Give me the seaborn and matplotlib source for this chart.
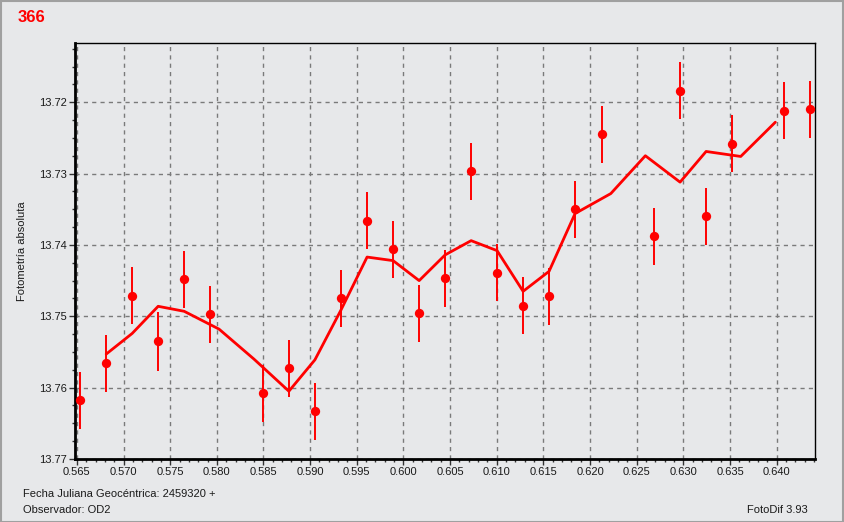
import matplotlib
matplotlib.use("Agg")
import matplotlib.pyplot as plt
import matplotlib.patches as patches
from matplotlib.ticker import MultipleLocator, FormatStrFormatter
import numpy as np
import pandas as pd
import seaborn as sns

# --- Datos ---
jd = [0.56536, 0.56814, 0.57093, 0.57371, 0.57650, 0.57929, 0.58493, 0.58772,
      0.59050, 0.59332, 0.59610, 0.59889, 0.60168, 0.60446, 0.60725, 0.61003,
      0.61282, 0.61560, 0.61839, 0.62130, 0.62687, 0.62964, 0.63243, 0.63521,
      0.64078, 0.64357]
mag = [13.7618, 13.7566, 13.7471, 13.7535, 13.7448, 13.7497, 13.7608, 13.7573,
       13.7633, 13.7475, 13.7366, 13.7406, 13.7496, 13.7447, 13.7297, 13.7439,
       13.7485, 13.7472, 13.7350, 13.7245, 13.7388, 13.7184, 13.7360, 13.7258,
       13.7212, 13.7210]
err = [0.0040, 0.0040, 0.0040, 0.0041, 0.0040, 0.0040, 0.0040, 0.0040,
       0.0040, 0.0040, 0.0040, 0.0040, 0.0040, 0.0040, 0.0040, 0.0040,
       0.0040, 0.0040, 0.0040, 0.0040, 0.0040, 0.0040, 0.0040, 0.0040,
       0.0040, 0.0040]

# curva suavizada
jd_suave = [0.56814, 0.57093, 0.57371, 0.57650, 0.58024, 0.58398, 0.58772,
            0.59051, 0.59331, 0.59610, 0.59889, 0.60168, 0.60446, 0.60725,
            0.61003, 0.61282, 0.61560, 0.61839, 0.62222, 0.62592, 0.62964,
            0.63243, 0.63614, 0.63985]
mag_suave = [13.7553, 13.7524, 13.7486, 13.7493, 13.7518, 13.7560, 13.7605,
             13.7561, 13.7491, 13.7417, 13.7422, 13.7450, 13.7414, 13.7394,
             13.7408, 13.7465, 13.7437, 13.7356, 13.7328, 13.7275, 13.7312,
             13.7269, 13.7276, 13.7228]

df = pd.DataFrame({"jd": jd, "mag": mag, "err": err})
df_suave = pd.DataFrame({"jd": jd_suave, "mag": mag_suave})

# --- Estilo ---
bg = "#e7e8ea"
sns.set_style("white")
plt.rcParams["font.family"] = ["Liberation Sans", "DejaVu Sans"]

fig = plt.figure(figsize=(8.44, 5.22), dpi=100, facecolor=bg)
ax = fig.add_axes([75 / 844, 1 - 459 / 522, 740 / 844, 416 / 522])
ax.set_facecolor(bg)

# barras de error
ax.errorbar(df["jd"], df["mag"], yerr=df["err"], fmt="none",
            ecolor="#ff0000", elinewidth=1.4, capsize=0, zorder=3)
sns.lineplot(data=df_suave, x="jd", y="mag", color="#ff0000", linewidth=2,
             sort=False, ax=ax, zorder=4)
sns.scatterplot(data=df, x="jd", y="mag", color="#ff0000", s=45,
                edgecolor="#ff0000", linewidth=0, marker="o", ax=ax, zorder=5)

# --- Ejes ---
ax.set_xlim(0.5648, 0.6441)
ax.set_ylim(13.77, 13.7117)
ax.xaxis.set_major_locator(MultipleLocator(0.005))
ax.xaxis.set_minor_locator(MultipleLocator(0.001))
ax.yaxis.set_major_locator(MultipleLocator(0.01))
ax.yaxis.set_minor_locator(MultipleLocator(0.0025))
ax.xaxis.set_major_formatter(FormatStrFormatter("%.3f"))
ax.yaxis.set_major_formatter(FormatStrFormatter("%.2f"))
ax.tick_params(axis="both", which="major", length=4, width=1, color="#333333",
               labelsize=8, pad=2, labelcolor="#1a1a1a")
ax.tick_params(axis="both", which="minor", length=2, width=1, color="#333333")
ax.tick_params(axis="x", which="both", bottom=True, top=False)
ax.tick_params(axis="y", which="both", left=True, right=False)

ax.grid(True, which="major", color="#7a7a7a", linestyle=(0, (3, 3)), linewidth=1)
ax.set_axisbelow(True)

for s in ["left", "bottom"]:
    ax.spines[s].set_linewidth(2)
    ax.spines[s].set_color("black")
for s in ["top", "right"]:
    ax.spines[s].set_linewidth(1)
    ax.spines[s].set_color("black")
    ax.spines[s].set_visible(True)

ax.set_xlabel("")
ax.set_ylabel("")

# --- Textos ---
fig.text(18 / 844, 1 - 10 / 522, "366", color="#ff0000", fontsize=12,
         fontweight="bold", ha="left", va="top")
fig.text(22 / 844, 1 - 251 / 522, "Fotometría absoluta", rotation=90,
         fontsize=8, ha="center", va="center", color="#1a1a1a")
fig.text(23 / 844, 1 - 494 / 522, "Fecha Juliana Geocéntrica: 2459320 +",
         fontsize=8, ha="left", va="center", color="#1a1a1a")
fig.text(23 / 844, 1 - 510 / 522, "Observador: OD2",
         fontsize=8, ha="left", va="center", color="#1a1a1a")
fig.text(808 / 844, 1 - 510 / 522, "FotoDif 3.93",
         fontsize=8, ha="right", va="center", color="#1a1a1a")

# marco de la ventana
fig.patches.append(patches.Rectangle((0.5 / 844, 0.5 / 522), 842.5 / 844, 520.5 / 522,
                                     transform=fig.transFigure, fill=False,
                                     edgecolor="#a0a0a0", linewidth=1.5))

fig.savefig("out.png", dpi=100, facecolor=bg)
